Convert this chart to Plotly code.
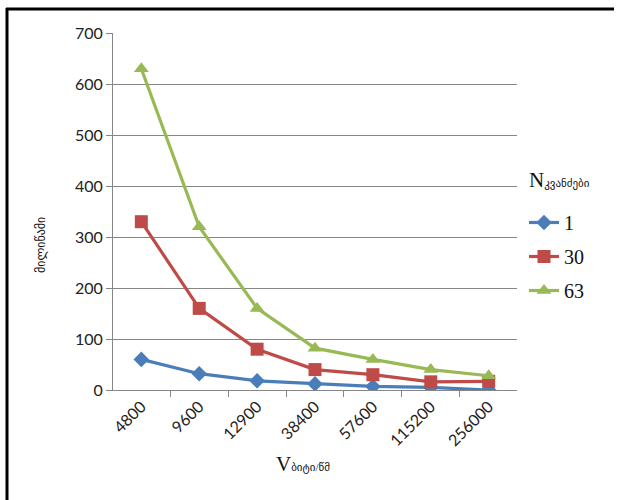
import plotly.graph_objects as go

# Transmission speed categories and delay per node count
speeds = ["4800", "9600", "12900", "38400", "57600", "115200", "256000"]
series_names = ["1", "30", "63"]
delay_n1 = [60, 32, 18, 12, 7, 5, 0]
delay_n30 = [330, 160, 80, 40, 30, 16, 17]
delay_n63 = [630, 320, 160, 82, 60, 40, 28]

colors = ["#4A7EBB", "#BE4B48", "#98B954"]
symbols = ["diamond", "square", "triangle-up"]
marker_sizes = [12, 13, 13]

W, H = 619, 500
L, R, T, B = 113, 102, 33, 110

fig = go.Figure()
for name, vals, col, sym, ms in zip(series_names, [delay_n1, delay_n30, delay_n63],
                                   colors, symbols, marker_sizes):
    fig.add_trace(go.Scatter(
        x=speeds, y=vals, name=name, mode="lines+markers",
        legendgroup=name,
        line=dict(color=col, width=3.2),
        marker=dict(symbol=sym, size=ms, color=col),
    ))

pw = W - L - R
ph = H - T - B


def px_x(x):
    return (x - L) / pw


def px_y(y):
    return (H - B - y) / ph


axis_grey = "#868686"
serif = "Liberation Serif, DejaVu Sans, serif"
fig.update_layout(
    width=W, height=H,
    margin=dict(l=L, r=R, t=T, b=B),
    paper_bgcolor="white", plot_bgcolor="white",
    font=dict(family="Lato, Liberation Sans, sans-serif", size=16, color="#222"),
    xaxis=dict(
        type="category", tickangle=-45, tickson="boundaries",
        ticks="outside", ticklen=6, tickcolor=axis_grey,
        showline=True, linecolor=axis_grey, linewidth=1,
        showgrid=False, tickfont=dict(size=16),
    ),
    yaxis=dict(
        range=[0, 700], dtick=100, ticks="outside", ticklen=6, tickcolor=axis_grey,
        showline=True, linecolor=axis_grey, linewidth=1,
        showgrid=True, gridcolor=axis_grey, gridwidth=1, zeroline=False,
        tickfont=dict(size=16),
    ),
    legend=dict(
        x=px_x(524), y=px_y(203), xanchor="left", yanchor="top",
        traceorder="grouped", tracegroupgap=5, itemwidth=30,
        font=dict(family=serif, size=20, color="#111"),
    ),
    annotations=[
        dict(
            text="N<span style='font-size:11px'>კვანძები</span>", xref="paper", yref="paper",
            x=px_x(527), y=px_y(180), xanchor="left", showarrow=False,
            font=dict(family=serif, size=21, color="#111"),
        ),
        dict(
            text="მილიწამი", xref="paper", yref="paper",
            x=px_x(32), y=px_y(245), showarrow=False, textangle=-90,
            font=dict(family="DejaVu Sans, serif", size=12, color="#111"),
        ),
        dict(
            text="V<span style='font-size:11px'>ბიტი/წმ</span>", xref="paper", yref="paper",
            x=px_x(303), y=px_y(478), showarrow=False,
            font=dict(family=serif, size=21, color="#111"),
        ),
    ],
    shapes=[
        dict(type="line", xref="paper", yref="paper",
             x0=px_x(7), x1=px_x(7), y0=px_y(8), y1=px_y(500),
             line=dict(color="black", width=3)),
        dict(type="line", xref="paper", yref="paper",
             x0=px_x(6), x1=px_x(614), y0=px_y(9), y1=px_y(9),
             line=dict(color="black", width=3)),
    ],
    showlegend=True,
)

fig.write_html("out.html")
